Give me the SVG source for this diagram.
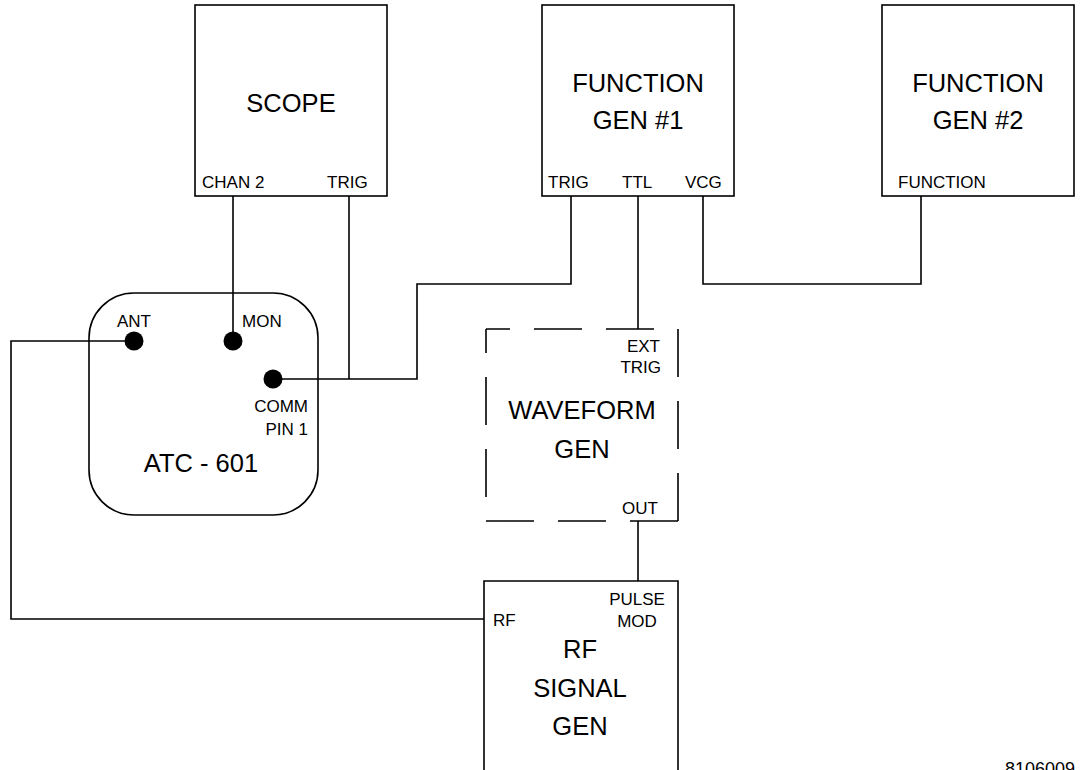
<svg xmlns="http://www.w3.org/2000/svg" width="1080" height="770" viewBox="0 0 1080 770">
<style>
.box{fill:none;stroke:#000;stroke-width:1.6}
.w{fill:none;stroke:#000;stroke-width:1.6;stroke-linejoin:miter}
.big{font-family:"Liberation Sans",Arial,Helvetica,sans-serif;font-size:25.5px;fill:#000;text-anchor:middle}
.sm{font-family:"Liberation Sans",Arial,Helvetica,sans-serif;font-size:17px;fill:#000}
.dot{fill:#000}
.dA{stroke-dasharray:24 24 48 24 48 24}
.dB{stroke-dasharray:48 24}
</style>
<rect width="1080" height="770" fill="#fff"/>
<g id="connectors">
<path class="w" d="M233,196 V341"/>
<path class="w" d="M349,196 V379"/>
<path class="w" d="M273,379 H417 V284 H571 V196"/>
<path class="w" d="M638,196 V329"/>
<path class="w" d="M703,196 V284 H921 V196"/>
<path class="w" d="M134,341 H11 V619 H484"/>
<path class="w" d="M638,521 V581"/>
</g>
<g id="scope">
<rect class="box" x="195" y="5" width="192" height="191"/>
<text class="big" x="291" y="112">SCOPE</text>
<text class="sm" x="202" y="188">CHAN 2</text>
<text class="sm" x="327" y="188">TRIG</text>
</g>
<g id="fg1">
<rect class="box" x="542" y="5" width="192" height="191"/>
<text class="big" x="638" y="92">FUNCTION</text>
<text class="big" x="638" y="129">GEN #1</text>
<text class="sm" x="548" y="188">TRIG</text>
<text class="sm" x="622" y="188">TTL</text>
<text class="sm" x="685" y="188">VCG</text>
</g>
<g id="fg2">
<rect class="box" x="882" y="5" width="192" height="191"/>
<text class="big" x="978" y="92">FUNCTION</text>
<text class="big" x="978" y="129">GEN #2</text>
<text class="sm" x="898" y="188">FUNCTION</text>
</g>
<g id="atc">
<rect class="box" x="89" y="293" width="229" height="222" rx="45" ry="45"/>
<circle class="dot" cx="134" cy="341" r="9.5"/>
<circle class="dot" cx="233" cy="341" r="9.5"/>
<circle class="dot" cx="273" cy="379" r="9.5"/>
<text class="sm" x="117" y="327">ANT</text>
<text class="sm" x="242" y="327">MON</text>
<text class="sm" x="308" y="412" text-anchor="end">COMM</text>
<text class="sm" x="308" y="435" text-anchor="end">PIN 1</text>
<text class="big" x="201" y="472">ATC - 601</text>
</g>
<g id="waveform">
<line class="w dA" x1="486" y1="329" x2="678" y2="329"/>
<line class="w dA" x1="486" y1="329" x2="486" y2="521"/>
<line class="w dB" x1="678" y1="329" x2="678" y2="521"/>
<line class="w dB" x1="486" y1="521" x2="678" y2="521"/>
<text class="sm" x="660" y="352" text-anchor="end">EXT</text>
<text class="sm" x="661" y="373" text-anchor="end">TRIG</text>
<text class="big" x="582" y="419">WAVEFORM</text>
<text class="big" x="582" y="458">GEN</text>
<text class="sm" x="658" y="514" text-anchor="end">OUT</text>
</g>
<g id="rfgen">
<path class="box" d="M484,775 V581 H678 V775"/>
<text class="sm" x="493" y="626">RF</text>
<text class="sm" x="637" y="605" text-anchor="middle">PULSE</text>
<text class="sm" x="637" y="627" text-anchor="middle">MOD</text>
<text class="big" x="580" y="658">RF</text>
<text class="big" x="580" y="697">SIGNAL</text>
<text class="big" x="580" y="735">GEN</text>
</g>
<text class="sm" x="1075" y="775" text-anchor="end" style="font-size:18px">8106009</text>
</svg>
